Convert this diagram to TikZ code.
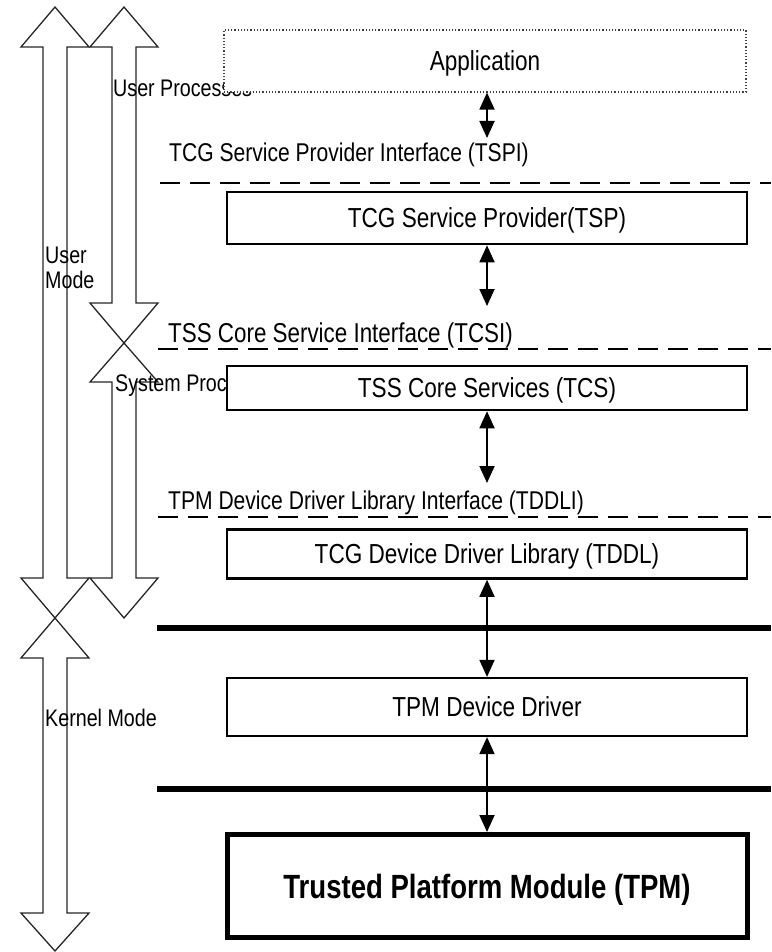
\documentclass[tikz,border=0pt]{standalone}
\usepackage{fontspec}
\setmainfont{Liberation Sans}[FakeStretch=0.82]
\usetikzlibrary{arrows.meta}

\tikzset{
  layerbox/.style={draw, line width=2.6pt, minimum width=520pt, inner sep=0pt,
    text height=19.7pt, text depth=0pt, fill=white, font=\fontsize{27.5}{32}\selectfont},
  appbox/.style={layerbox, line width=1.2pt, dotted, draw=black!75, minimum width=522pt},
  tpmbox/.style={layerbox, line width=5pt, text height=24pt, font=\fontsize{33.6}{38}\selectfont\bfseries},
  lbl/.style={anchor=base west, inner sep=0pt, font=\fontsize{24}{28}\selectfont},
  ifacelbl/.style={lbl, font=\fontsize{25.7}{30}\selectfont},
  iface/.style={line width=2.2pt, dash pattern=on 20pt off 10pt},
  bus/.style={line width=6pt},
  link/.style={line width=1.8pt, {Triangle[length=17pt,width=15pt]}-{Triangle[length=17pt,width=15pt]}},
  mode/.style={line width=1.3pt, draw=black!85}
}

\begin{document}
\begin{tikzpicture}[x=1pt, y=-1pt]
\useasboundingbox (0,0) rectangle (771,952);

% mode / process block arrows on the left
\draw[mode] (55,7) -- (89,47) -- (67,47) -- (67,578) -- (89,578) -- (55,618)
  -- (21,578) -- (43,578) -- (43,47) -- (21,47) -- cycle;
\draw[mode] (124,7) -- (158,47) -- (136,47) -- (136,303) -- (158,303) -- (124,343)
  -- (90,303) -- (112,303) -- (112,47) -- (90,47) -- cycle;
\draw[mode] (124,343) -- (158,382) -- (136,382) -- (136,578) -- (158,578) -- (124,618)
  -- (90,578) -- (112,578) -- (112,382) -- (90,382) -- cycle;
\draw[mode] (55,618) -- (89,658) -- (67,658) -- (67,913) -- (89,913) -- (55,951)
  -- (21,913) -- (43,913) -- (43,658) -- (21,658) -- cycle;

\node[lbl] (userproc) at (113,97) {User Processes};
\node[lbl] (usermode1) at (45,263) {User};
\node[lbl] (usermode2) at (45,288) {Mode};
\node[lbl] (sysproc) at (115,391) {System Proc};
\node[lbl] (kernel) at (45,726) {Kernel Mode};

% interface labels and boundaries
\node[ifacelbl] (tspi) at (169,162) {TCG Service Provider Interface (TSPI)};
\node[ifacelbl, font=\fontsize{27.3}{32}\selectfont] (tcsi) at (168,342) {TSS Core Service Interface (TCSI)};
\node[ifacelbl] (tddli) at (168,509) {TPM Device Driver Library Interface (TDDLI)};

\draw[iface] (160,183) -- (771,183);
\draw[iface] (158,349) -- (771,349);
\draw[iface] (158,517) -- (771,517);

\draw[bus] (157,628) -- (771,628);
\draw[bus] (157,789) -- (771,789);

% layers
\node[appbox, minimum height=62pt] (app) at (485,61) {Application};
\node[layerbox, minimum height=52pt] (tsp) at (487,218) {TCG Service Provider(TSP)};
\node[layerbox, minimum height=44pt] (tcs) at (487,388) {TSS Core Services (TCS)};
\node[layerbox, minimum height=49pt] (tddl) at (487,554) {TCG Device Driver Library (TDDL)};
\node[layerbox, line width=2.2pt, minimum height=58pt] (tpmdd) at (487,707) {TPM Device Driver};
\node[tpmbox, minimum height=103pt] (tpm) at (487,886) {Trusted Platform Module (TPM)};

% links between layers
\coordinate (tspiend) at (487,138);
\coordinate (tcsiend) at (487,306);
\coordinate (tddliend) at (487,483);
\draw[link] (app.south -| tspiend) -- (tspiend);
\draw[link] (tsp.south) -- (tcsiend);
\draw[link] (tcs.south) -- (tddliend);
\draw[link] (tddl.south) -- (tpmdd.north);
\draw[link] (tpmdd.south) -- (tpm.north);
\end{tikzpicture}
\end{document}
